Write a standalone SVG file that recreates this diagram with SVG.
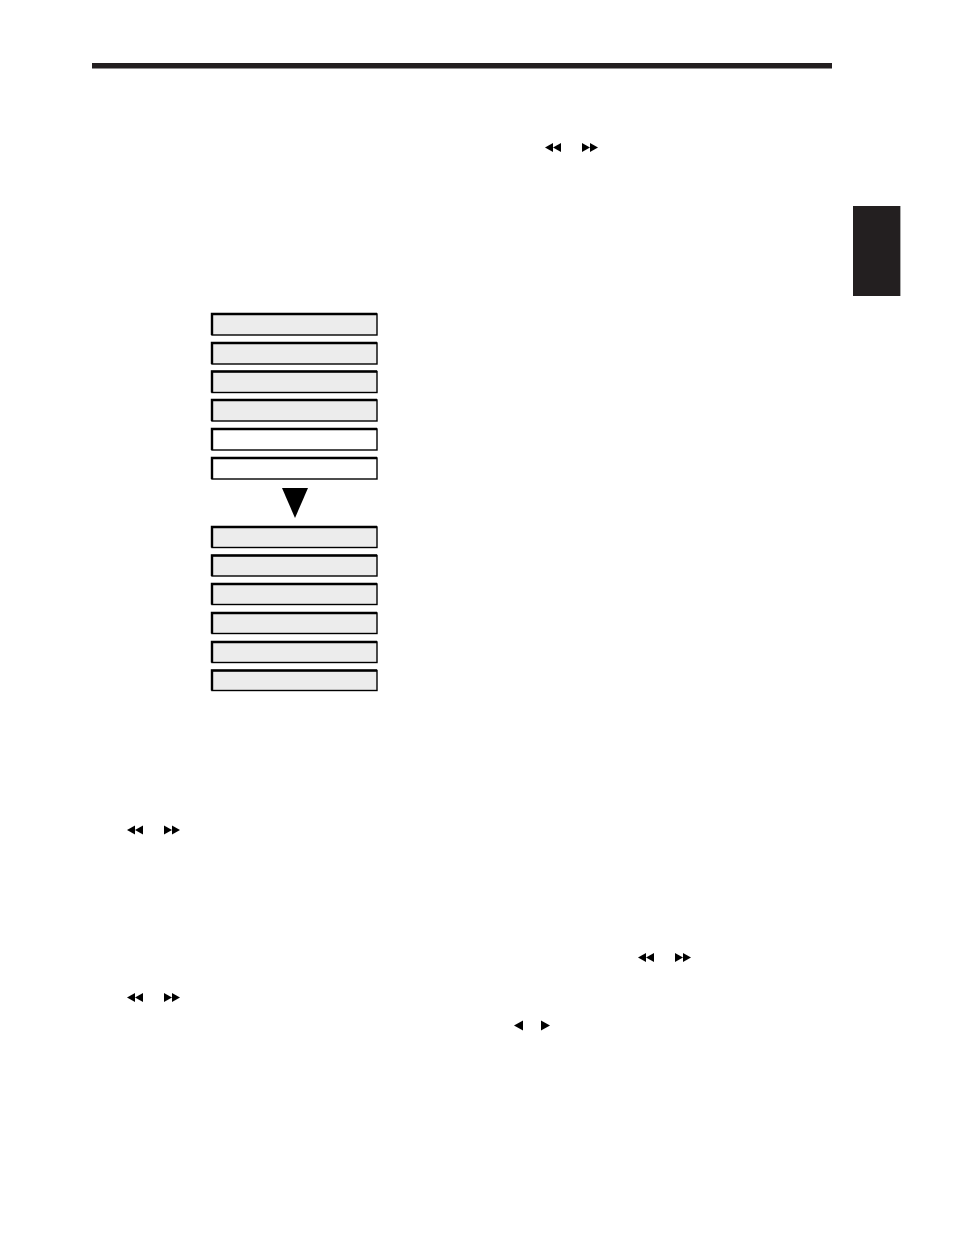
<svg xmlns="http://www.w3.org/2000/svg" width="954" height="1235" viewBox="0 0 954 1235">
<style>
.box{stroke:#000;stroke-width:1.4}
.g{fill:#ececec}
.w{fill:#fff}
.edge{fill:none;stroke:#000;stroke-width:2.4}
.ic{fill:#000}
</style>
<defs>
<g id="rew"><polygon points="0,4.5 8,0 8,9"/><polygon points="8,4.5 16,0 16,9"/></g>
<g id="ff"><polygon points="0,0 8,4.5 0,9"/><polygon points="8,0 16,4.5 8,9"/></g>
</defs>
<rect width="954" height="1235" fill="#fff"/>
<rect x="92" y="63" width="740" height="5.5" fill="#231f20"/>
<rect x="853" y="206" width="47" height="90" fill="#231f20"/>
<line x1="900.5" y1="206" x2="900.5" y2="296" stroke="#aaa" stroke-width="1"/>

<g id="icons" class="ic">
<use href="#rew" x="545" y="143"/>
<use href="#ff" x="582" y="143"/>
<use href="#rew" x="127" y="825.5"/>
<use href="#ff" x="164" y="825.5"/>
<use href="#rew" x="638" y="953"/>
<use href="#ff" x="675" y="953"/>
<use href="#rew" x="127" y="993"/>
<use href="#ff" x="164" y="993"/>
<polygon points="514,1025.5 523,1020.5 523,1030.5"/>
<polygon points="541,1020.5 550,1025.5 541,1030.5"/>
</g>

<g id="n1"><rect class="box g" x="212" y="314" width="165" height="21"/><path class="edge" d="M212,335 V314 H377"/></g>
<g id="n2"><rect class="box g" x="212" y="343" width="165" height="21"/><path class="edge" d="M212,364 V343 H377"/></g>
<g id="n3"><rect class="box g" x="212" y="371.5" width="165" height="21"/><path class="edge" d="M212,392.5 V371.5 H377"/></g>
<g id="n4"><rect class="box g" x="212" y="400" width="165" height="21"/><path class="edge" d="M212,421 V400 H377"/></g>
<g id="n5"><rect class="box w" x="212" y="429" width="165" height="21"/><path class="edge" d="M212,450 V429 H377"/></g>
<g id="n6"><rect class="box w" x="212" y="458" width="165" height="21"/><path class="edge" d="M212,479 V458 H377"/></g>

<g id="connectors"><polygon points="282,488 308,488 295,518" fill="#000"/></g>

<g id="n7"><rect class="box g" x="212" y="527" width="165" height="20.5"/><path class="edge" d="M212,547.5 V527 H377"/></g>
<g id="n8"><rect class="box g" x="212" y="555.5" width="165" height="20.5"/><path class="edge" d="M212,576 V555.5 H377"/></g>
<g id="n9"><rect class="box g" x="212" y="584" width="165" height="20.5"/><path class="edge" d="M212,604.5 V584 H377"/></g>
<g id="n10"><rect class="box g" x="212" y="613" width="165" height="20.5"/><path class="edge" d="M212,633.5 V613 H377"/></g>
<g id="n11"><rect class="box g" x="212" y="642" width="165" height="20.5"/><path class="edge" d="M212,662.5 V642 H377"/></g>
<g id="n12"><rect class="box g" x="212" y="670.5" width="165" height="20"/><path class="edge" d="M212,690.5 V670.5 H377"/></g>
</svg>
